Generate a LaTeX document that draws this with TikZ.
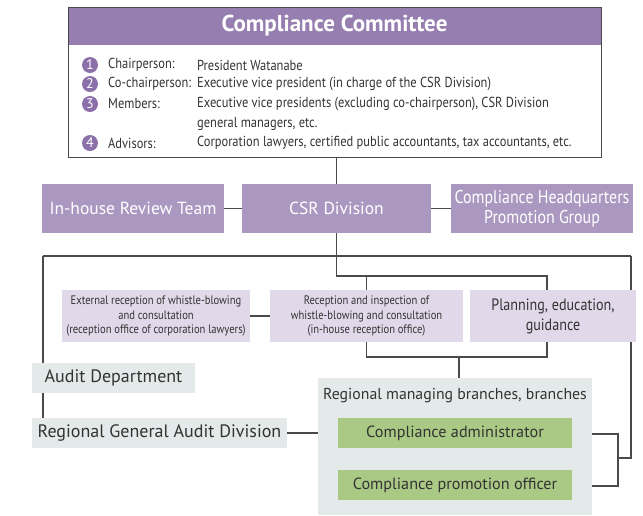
\documentclass[tikz,border=0pt]{standalone}
\usepackage{fontspec}
\setmainfont{PT Sans}
\newfontfamily\cond[FakeStretch=0.86]{PT Sans}
\usetikzlibrary{backgrounds,calc}
\definecolor{headpurple}{HTML}{967EB0}
\definecolor{midpurple}{HTML}{AB98C1}
\definecolor{lightpurple}{HTML}{E1D9E9}
\definecolor{lightgray}{HTML}{E4EAE9}
\definecolor{leafgreen}{HTML}{A9C985}
\definecolor{numpurple}{HTML}{8C70AA}
\definecolor{txt}{HTML}{333333}
\definecolor{linec}{HTML}{4A4A4A}
\tikzset{
  base/.style={inner sep=0pt, align=center, text=txt},
  pbox/.style={base, fill=midpurple, text=white, minimum height=49pt},
  lpbox/.style={base, fill=lightpurple, minimum height=52pt},
  gbox/.style={base, fill=lightgray, minimum height=30pt},
  grbox/.style={base, fill=leafgreen, minimum height=30pt, minimum width=234pt},
  numc/.style={circle, fill=numpurple, text=white, inner sep=0pt, minimum size=16pt, font=\fontsize{14}{14}\selectfont},
  lbl/.style={anchor=west, inner sep=0pt, text=txt, font=\cond\fontsize{14.5}{14.5}\selectfont},
  conn/.style={draw=linec, line width=1.2pt}
}
\begin{document}
\begin{tikzpicture}[x=1pt,y=-1pt]
\useasboundingbox (0,0) rectangle (643,515);
% committee
\node[draw=linec, line width=1pt, minimum width=533pt, minimum height=150pt, inner sep=0pt] (comm) at (334.5,82) {};
\node[fill=headpurple, minimum width=532pt, minimum height=37pt, inner sep=0pt, text=white, font=\bfseries\fontsize{23}{23}\selectfont] (head) at (334.5,26) {Compliance Committee};
\node[numc] (n1) at (90,65) {1};
\node[numc] (n2) at (90,84) {2};
\node[numc] (n3) at (90,104) {3};
\node[numc] (n4) at (90,143) {4};
\node[lbl] (l1) at (108,65) {Chairperson:};
\node[lbl] (l2) at (108,84) {Co-chairperson:};
\node[lbl] (l3) at (108,104) {Members:};
\node[lbl] (l4) at (108,143) {Advisors:};
\node[lbl] (v1) at (197,65) {President Watanabe};
\node[lbl] (v2) at (197,84) {Executive vice president (in charge of the CSR Division)};
\node[lbl] (v3) at (197,104) {Executive vice presidents (excluding co-chairperson), CSR Division};
\node[lbl] (v3b) at (197,124) {general managers, etc.};
\node[lbl] (v4) at (197,143) {Corporation lawyers, certified public accountants, tax accountants, etc.};
% second row
\node[pbox, minimum width=182pt, font=\fontsize{17.5}{17.5}\selectfont] (inhouse) at (133,208.5) {In-house Review Team};
\node[pbox, minimum width=189pt, font=\fontsize{17.5}{17.5}\selectfont] (csr) at (336.5,208.5) {CSR Division};
\node[pbox, minimum width=182pt, font=\cond\fontsize{18.5}{20}\selectfont] (hq) at (542,208.5) {Compliance Headquarters\\Promotion Group};
% third row
\node[lpbox, minimum width=188pt, font=\cond\fontsize{12.3}{14.5}\selectfont] (ext) at (156,316) {External reception of whistle-blowing\\and consultation\\(reception office of corporation lawyers)};
\node[lpbox, minimum width=193pt, font=\cond\fontsize{12.3}{14.5}\selectfont] (rec) at (366.5,316) {Reception and inspection of\\whistle-blowing and consultation\\(in-house reception office)};
\node[lpbox, minimum width=166pt, font=\cond\fontsize{16.4}{20}\selectfont] (plan) at (553,316) {Planning, education,\\guidance};
% audit
\node[gbox, minimum width=163pt, font=\fontsize{18}{18}\selectfont] (audit) at (113.5,378) {Audit Department};
\node[gbox, minimum width=255pt, font=\fontsize{18}{18}\selectfont] (rga) at (159.5,433) {Regional General Audit Division};
% regional
\node[fill=lightgray, minimum width=274pt, minimum height=137pt, inner sep=0pt] (reg) at (455,446.5) {};
\node[base, font=\fontsize{15.8}{15.8}\selectfont] (regl) at (455,396) {Regional managing branches, branches};
\node[grbox, font=\fontsize{16.2}{16.2}\selectfont] (admin) at (455,433) {Compliance administrator};
\node[grbox, font=\fontsize{16.2}{16.2}\selectfont] (promo) at (455,485) {Compliance promotion officer};
% connectors
\coordinate (L) at (43,256);
\coordinate (R) at (631,256);
\coordinate (t1) at (336.5,276);
\coordinate (b1) at (459,357);
\coordinate (rb) at (618,458);
\begin{scope}[on background layer]
\draw[conn] (csr.north |- comm.south) -- (csr.north);
\draw[conn] (inhouse.east) -- (csr.west);
\draw[conn] (csr.east) -- (hq.west);
\draw[conn] (csr.south) -- (t1) -| ([xshift=-6pt]plan.north);
\draw[conn] (rec.north |- t1) -- (rec.north);
\draw[conn] (L) -- (R);
\draw[conn] (L) -- (L |- rga.north);
\draw[conn] (ext.east) -- (rec.west);
\draw[conn] (rec.south) |- (b1) -| ([xshift=-6pt]plan.south);
\draw[conn] (b1) -- (b1 |- reg.north);
\draw[conn] (rga.east) -- (rga.east -| reg.west);
\draw[conn] ([yshift=-1pt]admin.east) -- ([yshift=-1pt]admin.east -| rb) |- ([yshift=-1pt]promo.east);
\draw[conn] (rb) -| (R);
\end{scope}
\end{tikzpicture}
\end{document}
